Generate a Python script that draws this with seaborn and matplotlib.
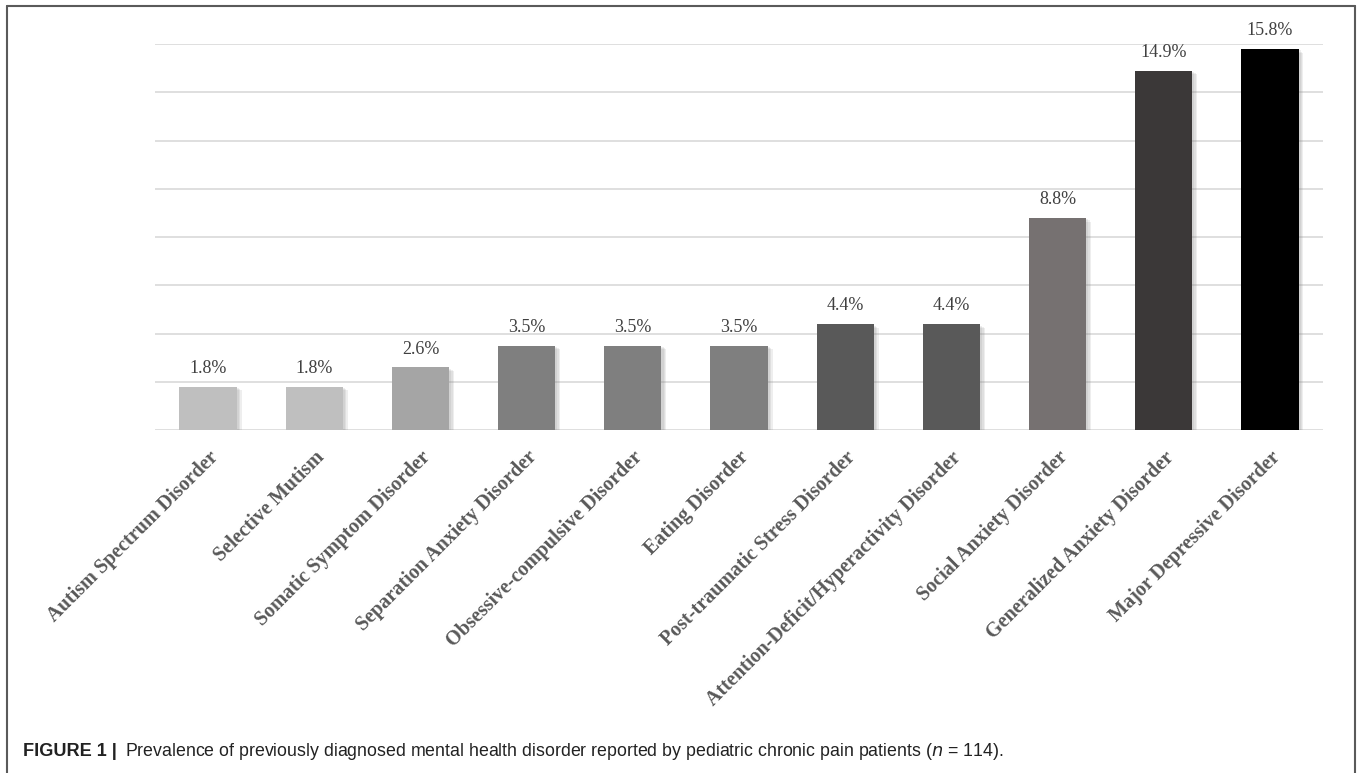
import matplotlib
matplotlib.use("Agg")
import matplotlib.pyplot as plt
import matplotlib.patheffects as pe
from matplotlib.lines import Line2D
import seaborn as sns
import pandas as pd

# data
disorders = ["Autism Spectrum Disorder", "Selective Mutism", "Somatic Symptom Disorder",
             "Separation Anxiety Disorder", "Obsessive-compulsive Disorder", "Eating Disorder",
             "Post-traumatic Stress Disorder", "Attention-Deficit/Hyperactivity Disorder",
             "Social Anxiety Disorder", "Generalized Anxiety Disorder", "Major Depressive Disorder"]
prevalence = [1.8, 1.8, 2.6, 3.5, 3.5, 3.5, 4.4, 4.4, 8.8, 14.9, 15.8]
bar_colors = ["#bfbfbf", "#bfbfbf", "#a5a5a5", "#7f7f7f", "#7f7f7f", "#7f7f7f",
              "#595959", "#595959", "#767171", "#3b3838", "#000000"]

df = pd.DataFrame({"disorder": disorders, "pct": prevalence})

sns.set_style("white")
W, H = 1363, 773
fig = plt.figure(figsize=(W / 100, H / 100), dpi=100)
ax = fig.add_axes([155 / W, 1 - 430 / H, (1323 - 155) / W, (430 - 44) / H])

sns.barplot(data=df, x="disorder", y="pct", hue="disorder", palette=bar_colors,
            legend=False, width=0.54, saturation=1, ax=ax)

# soft drop shadow, built from a few stacked offsets
shadow = [pe.SimplePatchShadow(offset=(o, -o * 0.8), shadow_rgbFace="#808080", alpha=0.13)
          for o in (3.5, 2.5, 1.5)] + [pe.Normal()]
for p in ax.patches:
    p.set_path_effects(shadow)
    p.set_edgecolor("none")

for c in ax.containers:
    ax.bar_label(c, fmt="%.1f%%", padding=7, fontsize=13, color="#404040",
                 family="Liberation Serif")

ax.set_ylim(0, 16)
ax.set_xlim(-0.5, len(disorders) - 0.5)
ax.set_yticks(range(0, 17, 2))
ax.yaxis.grid(True, color="#d9d9d9", linewidth=1.2)
ax.set_axisbelow(True)
ax.tick_params(axis="y", left=False, labelleft=False)
ax.tick_params(axis="x", bottom=False, pad=9)
for s in ax.spines.values():
    s.set_visible(False)
ax.set_xlabel("")
ax.set_ylabel("")
ax.set_xticks(range(len(disorders)))
ax.set_xticklabels(disorders, rotation=45, ha="right", rotation_mode="anchor",
                   fontsize=14.5, fontweight="bold", color="#595959", family="Liberation Serif")

# outer frame (open at the bottom like the cropped page)
fc = "#5a5a5a"
fig.add_artist(Line2D([7 / W, 1355 / W], [1 - 6 / H, 1 - 6 / H], transform=fig.transFigure, color=fc, lw=1.5))
fig.add_artist(Line2D([7 / W, 7 / W], [0, 1 - 6 / H], transform=fig.transFigure, color=fc, lw=1.5))
fig.add_artist(Line2D([1355 / W, 1355 / W], [0, 1 - 6 / H], transform=fig.transFigure, color=fc, lw=1.5))

# caption
base = 1 - 756 / H
fig.text(23 / W, base, "FIGURE 1 |", fontsize=13.1, fontweight="bold",
         family="Liberation Sans", color="#222222", va="baseline")
fig.text(125 / W, base,
         "Prevalence of previously diagnosed mental health disorder reported by pediatric chronic pain patients ($n$ = 114).",
         fontsize=12.8, family="Liberation Sans", color="#222222", va="baseline")

fig.savefig("out.png", dpi=100)
